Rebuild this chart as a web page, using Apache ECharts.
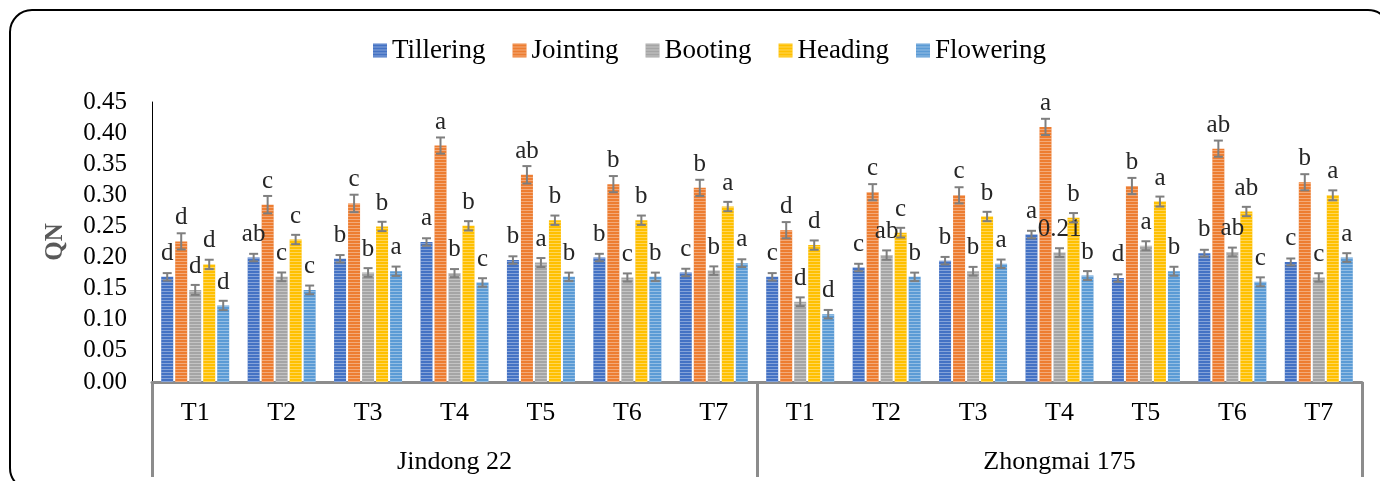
<!DOCTYPE html>
<html>
<head>
<meta charset="utf-8">
<script src="https://cdn.jsdelivr.net/npm/echarts@6/dist/echarts.min.js"></script>
<style>
  html, body { margin: 0; padding: 0; background: #fff; }
  #chart { width: 1380px; height: 481px; }
</style>
</head>
<body>
<div id="chart"></div>
<script>
// Categorías y grupos
const categories = ["T1", "T2", "T3", "T4", "T5", "T6", "T7", "T1", "T2", "T3", "T4", "T5", "T6", "T7"];
const groups = ["Jindong 22", "Zhongmai 175"];
const yTicks = [0, 0.05, 0.1, 0.15, 0.2, 0.25, 0.3, 0.35, 0.4, 0.45];

// Valores QN por etapa
const tillering = [0.169, 0.200, 0.198, 0.225, 0.196, 0.200, 0.176, 0.169, 0.184, 0.195, 0.237, 0.167, 0.207, 0.193];
const jointing = [0.226, 0.285, 0.287, 0.380, 0.333, 0.318, 0.312, 0.244, 0.305, 0.300, 0.410, 0.315, 0.375, 0.321];
const booting = [0.148, 0.169, 0.176, 0.175, 0.192, 0.168, 0.179, 0.129, 0.204, 0.178, 0.208, 0.219, 0.209, 0.168];
const heading = [0.189, 0.229, 0.250, 0.251, 0.260, 0.260, 0.282, 0.220, 0.240, 0.266, 0.264, 0.290, 0.274, 0.300];
const flowering = [0.123, 0.148, 0.178, 0.160, 0.169, 0.169, 0.191, 0.109, 0.169, 0.190, 0.171, 0.178, 0.161, 0.200];

// Barras de error
const tilleringErr = [0.006, 0.006, 0.006, 0.006, 0.006, 0.006, 0.006, 0.006, 0.006, 0.006, 0.006, 0.006, 0.0055, 0.0055];
const jointingErr = [0.013, 0.014, 0.014, 0.013, 0.014, 0.013, 0.013, 0.013, 0.013, 0.013, 0.013, 0.013, 0.013, 0.013];
const bootingErr = [0.008, 0.007, 0.007, 0.0065, 0.0072, 0.0065, 0.0068, 0.007, 0.0075, 0.007, 0.007, 0.0072, 0.007, 0.0068];
const headingErr = [0.0075, 0.0075, 0.0075, 0.0075, 0.0075, 0.0075, 0.0075, 0.0075, 0.0078, 0.0075, 0.0075, 0.008, 0.0075, 0.008];
const floweringErr = [0.0075, 0.007, 0.0075, 0.0068, 0.0068, 0.0068, 0.0062, 0.0068, 0.0068, 0.0068, 0.0072, 0.0072, 0.0072, 0.007];

// Letras de significancia
const tilleringSig = ["d", "ab", "b", "a", "b", "b", "c", "c", "c", "b", "a", "d", "b", "c"];
const jointingSig = ["d", "c", "c", "a", "ab", "b", "b", "d", "c", "c", "a", "b", "ab", "b"];
const bootingSig = ["d", "c", "b", "b", "a", "c", "b", "d", "ab", "b", "0.21", "a", "ab", "c"];
const headingSig = ["d", "c", "b", "b", "b", "b", "a", "d", "c", "b", "b", "a", "ab", "a"];
const floweringSig = ["d", "c", "a", "c", "b", "b", "a", "d", "b", "a", "b", "b", "c", "a"];

const stages = [
  { name: "Tillering", values: tillering, err: tilleringErr, sig: tilleringSig, color: "#4472C4" },
  { name: "Jointing", values: jointing, err: jointingErr, sig: jointingSig, color: "#ED7D31" },
  { name: "Booting", values: booting, err: bootingErr, sig: bootingSig, color: "#A5A5A5" },
  { name: "Heading", values: heading, err: headingErr, sig: headingSig, color: "#FFC000" },
  { name: "Flowering", values: flowering, err: floweringErr, sig: floweringSig, color: "#5B9BD5" },
];

const FONT = "Liberation Serif";
const BAR_W = 12;
const BAR_STEP = 14;

const series = [];
stages.forEach((st, i) => {
  series.push({
    name: st.name,
    type: "bar",
    barWidth: BAR_W,
    barGap: "16.67%",
    data: st.values,
    itemStyle: {
      color: st.color,
      decal: {
        symbol: "rect",
        symbolSize: 1,
        dashArrayX: [[1, 0]],
        dashArrayY: [1, 2],
        rotation: 0,
        color: "rgba(255,255,255,0.35)",
      },
    },
    label: {
      show: true,
      position: "top",
      distance: 11,
      fontFamily: FONT,
      fontSize: 25,
      color: "#262626",
      formatter: (p) => st.sig[p.dataIndex],
    },
    z: 2,
  });
});

// Barras de error como series custom
stages.forEach((st, i) => {
  const offset = (i - 2) * BAR_STEP;
  series.push({
    name: "err" + i,
    type: "custom",
    data: st.values.map((v, k) => [k, v, st.err[k]]),
    z: 5,
    silent: true,
    renderItem: function (params, api) {
      const idx = api.value(0);
      const v = api.value(1);
      const e = api.value(2);
      const hi = api.coord([idx, v + e]);
      const lo = api.coord([idx, v - e]);
      const x = hi[0] + offset;
      const cap = 4.5;
      const style = { stroke: "#7F7F7F", lineWidth: 2 };
      return {
        type: "group",
        children: [
          { type: "line", shape: { x1: x, y1: hi[1], x2: x, y2: lo[1] }, style: style },
          { type: "line", shape: { x1: x - cap, y1: hi[1], x2: x + cap, y2: hi[1] }, style: style },
          { type: "line", shape: { x1: x - cap, y1: lo[1], x2: x + cap, y2: lo[1] }, style: style },
        ],
      };
    },
  });
});

const chart = echarts.init(document.getElementById("chart"));
const option = {
  animation: false,
  backgroundColor: "#fff",
  graphic: [
    {
      type: "rect",
      shape: { x: 10, y: 10, width: 1380, height: 480, r: 22 },
      style: { fill: "none", stroke: "#000", lineWidth: 2 },
      silent: true,
      z: 100,
    },
  ],
  legend: {
    data: stages.map((s) => s.name),
    top: 32,
    left: 368,
    icon: "rect",
    itemWidth: 14,
    itemHeight: 14,
    itemGap: 27,
    textStyle: { fontFamily: FONT, fontSize: 27, color: "#000" },
  },
  grid: { left: 152, right: 18, top: 102, bottom: 99, containLabel: false },
  xAxis: [
    {
      type: "category",
      data: categories,
      position: "bottom",
      axisLine: { show: true, lineStyle: { color: "#8C8C8C", width: 3 } },
      axisTick: { show: false },
      axisLabel: { fontFamily: FONT, fontSize: 26, color: "#000", margin: 18, interval: 0 },
    },
    {
      type: "category",
      data: groups,
      position: "bottom",
      axisLine: { show: false },
      axisTick: { show: true, length: 95, lineStyle: { color: "#8C8C8C", width: 3 } },
      axisLabel: { fontFamily: FONT, fontSize: 26, color: "#000", margin: 67, interval: 0 },
    },
  ],
  yAxis: {
    type: "value",
    min: yTicks[0],
    max: yTicks[yTicks.length - 1],
    interval: 0.05,
    name: "QN",
    nameLocation: "middle",
    nameGap: 84,
    nameTextStyle: { fontFamily: FONT, fontSize: 25, fontWeight: "bold", color: "#595959" },
    axisLine: { show: true, lineStyle: { color: "#000", width: 1 } },
    axisTick: { show: false },
    splitLine: { show: false },
    axisLabel: {
      fontFamily: FONT,
      fontSize: 25,
      color: "#000",
      margin: 25,
      formatter: (v) => v.toFixed(2),
    },
  },
  series: series,
};
chart.setOption(option);

window.addEventListener("resize", function () {
  chart.resize();
});
</script>
</body>
</html>
